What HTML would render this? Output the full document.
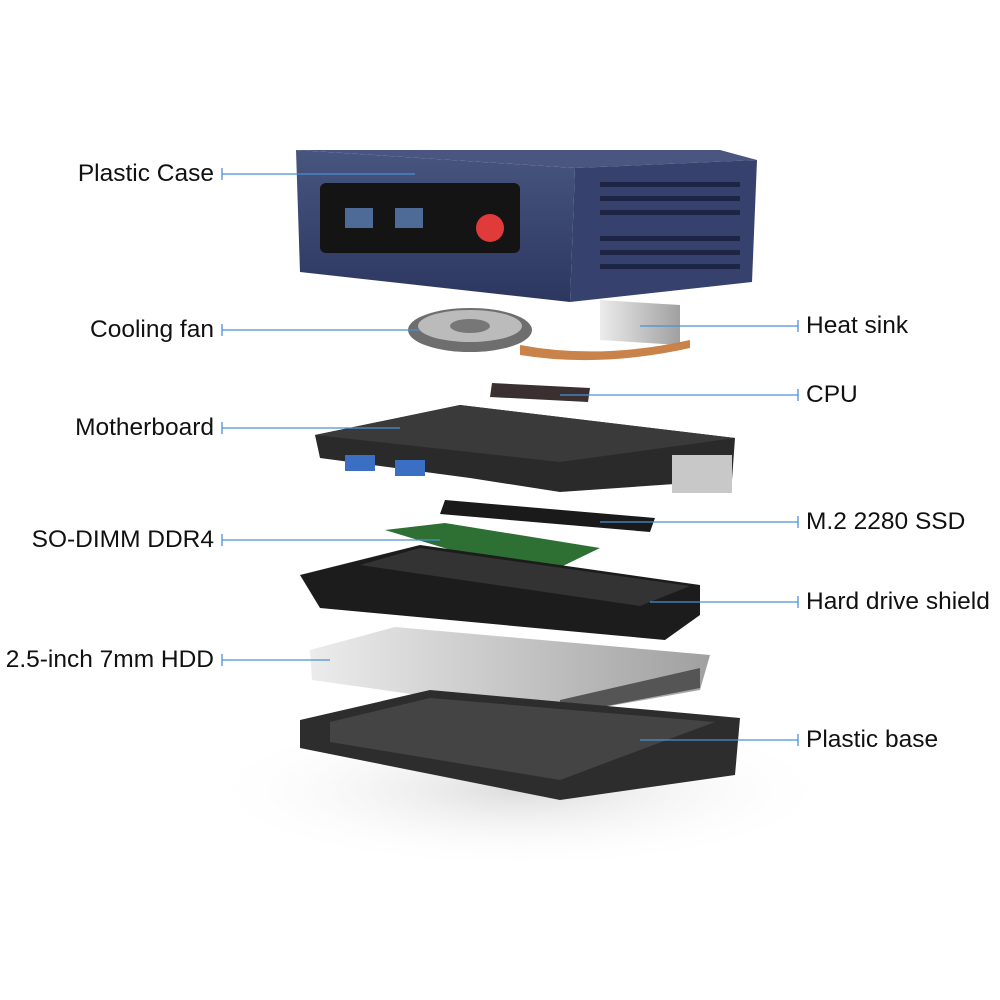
<!DOCTYPE html>
<html><head><meta charset="utf-8"><style>
html,body{margin:0;padding:0;background:#fff;}
body{width:1000px;height:1000px;overflow:hidden;position:relative;font-family:"Liberation Sans",sans-serif;}
svg{position:absolute;left:0;top:0;}
.l{position:absolute;font-size:24.5px;color:#111;line-height:1;white-space:nowrap;}
.r{text-align:right;width:300px;}
</style></head><body>
<svg width="1000" height="1000" viewBox="0 0 1000 1000">
<defs>
<linearGradient id="cs" x1="0" x2="0" y1="0" y2="1"><stop offset="0" stop-color="#47557f"/><stop offset="1" stop-color="#2c3760"/></linearGradient>
<linearGradient id="sv" x1="0" x2="1"><stop offset="0" stop-color="#ececec"/><stop offset="1" stop-color="#a0a0a0"/></linearGradient>
<radialGradient id="sh"><stop offset="0" stop-color="#dcdcdc"/><stop offset="1" stop-color="#fff" stop-opacity="0"/></radialGradient>
</defs>
<ellipse cx="520" cy="790" rx="320" ry="80" fill="url(#sh)"/>
<!-- case -->
<polygon points="296,150 720,150 757,160 575,168" fill="#4a5680"/>
<polygon points="296,150 575,168 570,302 300,272" fill="url(#cs)"/>
<polygon points="575,168 757,160 752,282 570,302" fill="#36426d"/>
<g fill="#1e2544">
<rect x="600" y="182" width="140" height="5"/><rect x="600" y="196" width="140" height="5"/><rect x="600" y="210" width="140" height="5"/><rect x="600" y="236" width="140" height="5"/><rect x="600" y="250" width="140" height="5"/><rect x="600" y="264" width="140" height="5"/>
</g>
<rect x="320" y="183" width="200" height="70" rx="6" fill="#141414"/>
<rect x="345" y="208" width="28" height="20" fill="#4e6a96"/>
<rect x="395" y="208" width="28" height="20" fill="#4e6a96"/>
<circle cx="490" cy="228" r="14" fill="#e03a3a"/>
<!-- fan + heatsink -->
<polygon points="600,300 680,305 680,345 600,340" fill="url(#sv)"/>
<path d="M520,345 Q600,360 690,340 L690,348 Q600,368 520,355Z" fill="#c8824a"/>
<ellipse cx="470" cy="330" rx="62" ry="22" fill="#6e6e6e"/>
<ellipse cx="470" cy="326" rx="52" ry="16" fill="#bbb"/>
<ellipse cx="470" cy="326" rx="20" ry="7" fill="#777"/>
<polygon points="492,383 590,388 588,402 490,397" fill="#3a3030"/>
<!-- motherboard -->
<polygon points="315,435 460,405 735,438 732,480 560,492 470,478 320,458" fill="#2a2a2a"/>
<polygon points="315,435 460,405 735,438 560,462" fill="#3a3a3a"/>
<rect x="345" y="455" width="30" height="16" fill="#3b6fc4"/>
<rect x="395" y="460" width="30" height="16" fill="#3b6fc4"/>
<rect x="672" y="455" width="60" height="38" fill="#c8c8c8"/>
<polygon points="445,500 655,518 650,532 440,514" fill="#1a1a1a"/>
<polygon points="385,530 445,523 600,548 540,577" fill="#2e6f33"/>
<!-- shield -->
<polygon points="300,575 420,545 700,585 700,615 665,640 320,608" fill="#1c1c1c"/>
<polygon points="360,565 420,548 690,586 640,606" fill="#333"/>
<!-- hdd -->
<polygon points="310,650 395,627 710,655 700,690 560,715 312,680" fill="url(#sv)"/>
<polygon points="560,700 700,668 700,688 560,715" fill="#555"/>
<!-- base -->
<polygon points="300,720 430,690 740,718 735,775 560,800 300,748" fill="#2d2d2d"/>
<polygon points="330,722 430,698 715,722 560,780 330,742" fill="#444"/>
<g stroke="#4a90d9" stroke-width="1.3">
<line x1="222" y1="174" x2="415" y2="174"/><line x1="222" y1="168" x2="222" y2="180"/>
<line x1="222" y1="330" x2="420" y2="330"/><line x1="222" y1="324" x2="222" y2="336"/>
<line x1="222" y1="428" x2="400" y2="428"/><line x1="222" y1="422" x2="222" y2="434"/>
<line x1="222" y1="540" x2="440" y2="540"/><line x1="222" y1="534" x2="222" y2="546"/>
<line x1="222" y1="660" x2="330" y2="660"/><line x1="222" y1="654" x2="222" y2="666"/>
<line x1="640" y1="326" x2="798" y2="326"/><line x1="798" y1="320" x2="798" y2="332"/>
<line x1="560" y1="395" x2="798" y2="395"/><line x1="798" y1="389" x2="798" y2="401"/>
<line x1="600" y1="522" x2="798" y2="522"/><line x1="798" y1="516" x2="798" y2="528"/>
<line x1="650" y1="602" x2="798" y2="602"/><line x1="798" y1="596" x2="798" y2="608"/>
<line x1="640" y1="740" x2="798" y2="740"/><line x1="798" y1="734" x2="798" y2="746"/>
</g>
</svg>
<div class="l r" style="left:-86px;top:162px">Plastic Case</div>
<div class="l r" style="left:-86px;top:318px">Cooling fan</div>
<div class="l r" style="left:-86px;top:416px">Motherboard</div>
<div class="l r" style="left:-86px;top:528px">SO-DIMM DDR4</div>
<div class="l r" style="left:-86px;top:648px">2.5-inch 7mm HDD</div>
<div class="l" style="left:806px;top:314px">Heat sink</div>
<div class="l" style="left:806px;top:383px">CPU</div>
<div class="l" style="left:806px;top:510px">M.2 2280 SSD</div>
<div class="l" style="left:806px;top:590px">Hard drive shield</div>
<div class="l" style="left:806px;top:728px">Plastic base</div>
</body></html>
